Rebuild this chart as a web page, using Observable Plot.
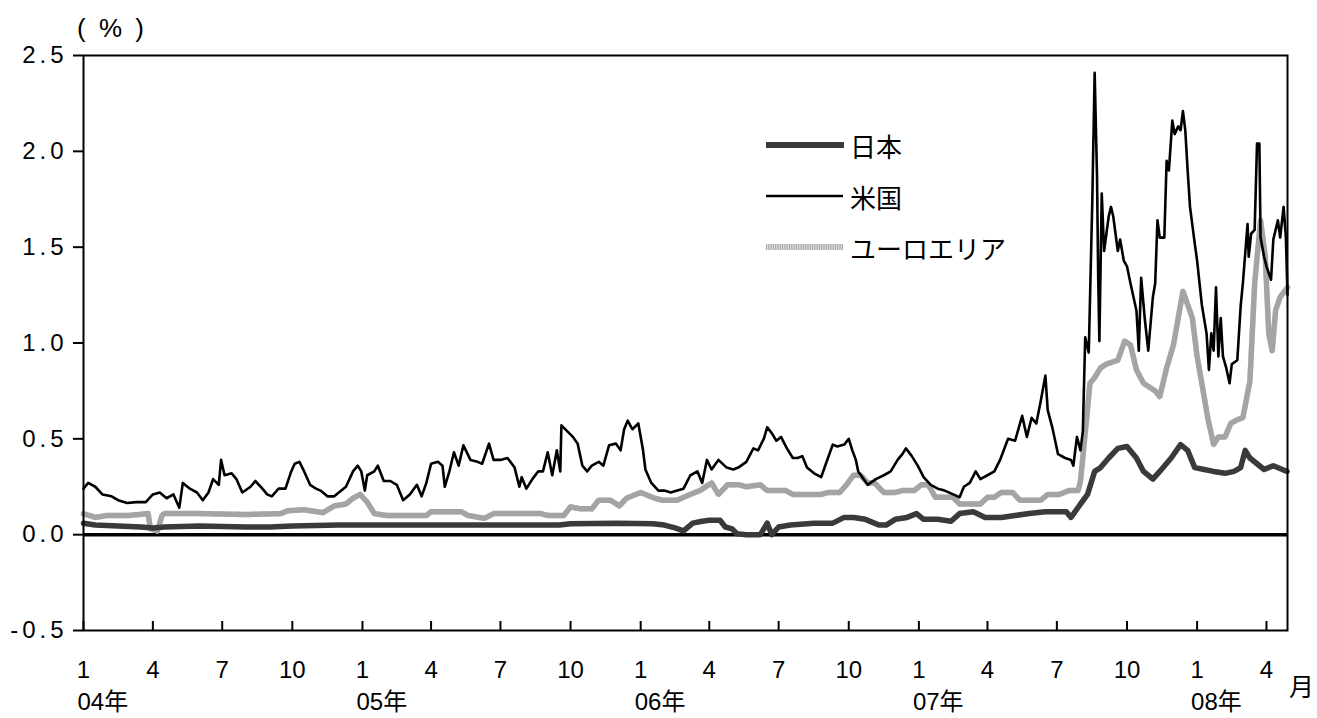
<!DOCTYPE html>
<html><head><meta charset="utf-8">
<script src="https://cdn.jsdelivr.net/npm/d3@7"></script>
<script src="https://cdn.jsdelivr.net/npm/@observablehq/plot@0.6"></script>
<style>
body{margin:0;background:#fff;}
#wrap{position:relative;width:1317px;height:718px;font-family:"Liberation Sans","Noto Sans CJK JP",sans-serif;color:#000;}
#unit{position:absolute;left:77px;top:13px;font-family:"Liberation Sans",sans-serif;font-size:26px;letter-spacing:3px;line-height:30px;white-space:pre;}
#month{position:absolute;left:1289px;top:668px;font-family:"Noto Sans CJK JP",sans-serif;font-size:25px;line-height:34px;}
.lg{position:absolute;left:766px;height:40px;display:flex;align-items:center;font-family:"Noto Sans CJK JP",sans-serif;font-size:26px;}
.lg svg{margin-right:6px;}
[aria-label="y-axis tick label"]{letter-spacing:4px;font-size:24px;}
</style></head>
<body><div id="wrap"></div>
<script>
// Time positions are months since Jan 2004; values in %.
const japanRate = [[0,0.06],[0.5,0.05],[1.5,0.045],[2.5,0.04],[3.0,0.035],[3.5,0.04],[5.0,0.045],[7.0,0.04],[8.0,0.04],[9.0,0.045],[11.0,0.05],[13.0,0.05],[15.0,0.05],[17.0,0.05],[19.0,0.05],[20.5,0.05],[21.0,0.057],[23.0,0.06],[24.5,0.057],[25.0,0.05],[25.5,0.035],[25.9,0.02],[26.3,0.06],[26.7,0.07],[27.0,0.075],[27.47,0.075],[27.7,0.04],[28.0,0.03],[28.2,0.005],[28.6,0.0],[29.2,0.0],[29.5,0.06],[29.7,0.0],[30.0,0.04],[30.5,0.05],[31.5,0.06],[32.3,0.06],[32.8,0.09],[33.2,0.09],[33.7,0.08],[34.3,0.05],[34.6,0.05],[35.0,0.08],[35.5,0.09],[35.9,0.11],[36.2,0.08],[36.8,0.08],[37.4,0.07],[37.8,0.11],[38.4,0.12],[38.9,0.09],[39.6,0.09],[40.2,0.10],[40.8,0.11],[41.5,0.12],[42.4,0.12],[42.6,0.09],[43.0,0.16],[43.3,0.21],[43.6,0.33],[43.85,0.35],[44.2,0.40],[44.6,0.45],[45.0,0.46],[45.4,0.40],[45.7,0.33],[46.1,0.29],[46.4,0.33],[46.9,0.40],[47.3,0.47],[47.6,0.44],[47.9,0.35],[48.3,0.34],[48.7,0.33],[49.2,0.32],[49.6,0.33],[49.9,0.35],[50.1,0.44],[50.3,0.40],[50.6,0.37],[50.9,0.34],[51.3,0.36],[51.9,0.33]];

const usRate = [[0,0.24],[0.2,0.27],[0.5,0.25],[0.8,0.21],[1.2,0.20],[1.5,0.18],[1.9,0.165],[2.3,0.17],[2.7,0.17],[3.0,0.21],[3.3,0.22],[3.6,0.19],[3.9,0.21],[4.15,0.14],[4.3,0.27],[4.6,0.24],[4.9,0.22],[5.15,0.18],[5.4,0.22],[5.6,0.29],[5.85,0.26],[5.95,0.39],[6.1,0.31],[6.4,0.32],[6.6,0.29],[6.85,0.22],[7.2,0.25],[7.4,0.28],[7.7,0.24],[7.9,0.21],[8.1,0.20],[8.4,0.24],[8.7,0.24],[8.95,0.33],[9.1,0.37],[9.3,0.38],[9.5,0.33],[9.75,0.26],[10.0,0.24],[10.2,0.23],[10.5,0.20],[10.8,0.20],[11.0,0.22],[11.3,0.25],[11.6,0.33],[11.8,0.36],[11.95,0.33],[12.1,0.23],[12.2,0.31],[12.5,0.33],[12.65,0.36],[12.9,0.28],[13.2,0.28],[13.5,0.26],[13.8,0.18],[14.1,0.21],[14.4,0.26],[14.6,0.20],[14.8,0.27],[15.0,0.37],[15.3,0.38],[15.5,0.36],[15.6,0.25],[15.8,0.33],[16.0,0.43],[16.2,0.36],[16.4,0.466],[16.7,0.39],[17.0,0.38],[17.2,0.37],[17.5,0.475],[17.7,0.39],[18.0,0.39],[18.3,0.40],[18.6,0.35],[18.8,0.25],[18.9,0.30],[19.1,0.24],[19.35,0.29],[19.6,0.33],[19.8,0.33],[20.0,0.43],[20.2,0.31],[20.4,0.44],[20.55,0.33],[20.6,0.57],[20.85,0.54],[21.1,0.51],[21.3,0.475],[21.5,0.36],[21.7,0.33],[21.9,0.36],[22.2,0.38],[22.4,0.36],[22.65,0.466],[22.95,0.475],[23.15,0.44],[23.3,0.55],[23.45,0.595],[23.65,0.55],[23.9,0.58],[24.1,0.44],[24.2,0.34],[24.45,0.27],[24.75,0.23],[25.0,0.23],[25.3,0.22],[25.6,0.23],[25.9,0.24],[26.2,0.31],[26.5,0.33],[26.7,0.27],[26.9,0.39],[27.1,0.34],[27.4,0.39],[27.76,0.35],[28.05,0.34],[28.26,0.35],[28.6,0.38],[28.9,0.45],[29.1,0.44],[29.35,0.50],[29.5,0.56],[29.7,0.53],[29.9,0.49],[30.1,0.51],[30.35,0.45],[30.6,0.40],[30.8,0.40],[31.0,0.41],[31.2,0.35],[31.5,0.32],[31.8,0.30],[32.0,0.37],[32.3,0.47],[32.5,0.46],[32.8,0.47],[33.0,0.50],[33.15,0.44],[33.3,0.39],[33.4,0.33],[33.8,0.26],[34.15,0.29],[34.5,0.31],[34.8,0.33],[35.1,0.39],[35.3,0.42],[35.45,0.45],[35.7,0.41],[35.95,0.36],[36.2,0.30],[36.5,0.26],[36.8,0.24],[37.1,0.23],[37.5,0.21],[37.8,0.195],[38.0,0.25],[38.25,0.27],[38.5,0.33],[38.7,0.29],[39.0,0.31],[39.3,0.33],[39.55,0.39],[39.9,0.50],[40.2,0.49],[40.5,0.62],[40.7,0.51],[40.9,0.61],[41.1,0.58],[41.3,0.70],[41.5,0.83],[41.6,0.65],[41.8,0.56],[42.05,0.42],[42.35,0.40],[42.6,0.39],[42.7,0.36],[42.85,0.51],[43.0,0.44],[43.1,0.54],[43.2,1.03],[43.35,0.95],[43.5,1.74],[43.6,2.41],[43.7,1.87],[43.75,1.34],[43.8,1.01],[43.9,1.78],[44.0,1.48],[44.1,1.57],[44.2,1.66],[44.3,1.71],[44.4,1.66],[44.6,1.48],[44.7,1.54],[44.86,1.43],[45.0,1.40],[45.15,1.31],[45.4,1.17],[45.5,0.96],[45.6,1.34],[45.75,1.13],[45.9,0.96],[46.1,1.24],[46.2,1.31],[46.3,1.64],[46.4,1.55],[46.6,1.55],[46.7,1.95],[46.8,1.90],[46.95,2.16],[47.05,2.09],[47.2,2.13],[47.3,2.11],[47.4,2.21],[47.5,2.11],[47.6,1.90],[47.7,1.71],[47.9,1.52],[48.0,1.43],[48.2,1.20],[48.4,1.05],[48.5,0.86],[48.6,1.05],[48.7,0.96],[48.8,1.29],[48.9,0.93],[49.0,1.13],[49.1,0.93],[49.25,0.87],[49.4,0.79],[49.5,0.89],[49.75,0.91],[49.9,1.19],[50.0,1.31],[50.2,1.62],[50.25,1.45],[50.35,1.57],[50.5,1.59],[50.6,2.04],[50.7,2.04],[50.75,1.55],[50.9,1.45],[51.0,1.40],[51.2,1.33],[51.3,1.54],[51.5,1.64],[51.6,1.55],[51.75,1.71],[51.85,1.55],[51.92,1.25]];

const euroRate = [[0,0.11],[0.5,0.09],[1.0,0.10],[2.0,0.10],[2.8,0.11],[2.9,0.03],[3.2,0.02],[3.4,0.10],[3.5,0.11],[5.0,0.11],[7.0,0.105],[8.5,0.11],[8.8,0.125],[9.5,0.13],[10.3,0.115],[10.8,0.15],[11.3,0.16],[11.6,0.19],[11.9,0.21],[12.2,0.17],[12.5,0.11],[13.0,0.10],[13.8,0.10],[14.8,0.10],[15.0,0.12],[16.3,0.12],[16.6,0.10],[17.3,0.085],[17.7,0.11],[19.7,0.11],[20.0,0.10],[20.7,0.10],[21.0,0.145],[21.4,0.135],[21.9,0.135],[22.2,0.18],[22.4,0.18],[22.7,0.18],[23.1,0.15],[23.4,0.19],[24.0,0.22],[24.6,0.19],[24.9,0.18],[25.6,0.18],[26.0,0.20],[26.6,0.23],[27.1,0.27],[27.4,0.21],[27.8,0.26],[28.3,0.26],[28.6,0.25],[29.2,0.26],[29.5,0.23],[30.3,0.23],[30.6,0.21],[31.8,0.21],[32.1,0.22],[32.6,0.22],[32.9,0.26],[33.2,0.31],[33.5,0.31],[33.8,0.27],[34.1,0.27],[34.5,0.22],[35.0,0.22],[35.3,0.23],[35.8,0.23],[36.1,0.26],[36.4,0.26],[36.7,0.195],[37.5,0.195],[37.8,0.16],[38.7,0.16],[39.0,0.195],[39.3,0.195],[39.6,0.22],[40.1,0.22],[40.4,0.18],[41.3,0.18],[41.6,0.21],[42.1,0.21],[42.5,0.23],[42.9,0.23],[43.0,0.28],[43.2,0.53],[43.4,0.79],[43.6,0.82],[43.85,0.87],[44.1,0.89],[44.6,0.91],[44.9,1.01],[45.15,0.99],[45.4,0.86],[45.7,0.79],[46.2,0.75],[46.4,0.72],[46.7,0.87],[47.0,0.99],[47.2,1.13],[47.4,1.27],[47.6,1.20],[47.8,1.13],[48.0,0.93],[48.2,0.79],[48.45,0.61],[48.7,0.47],[48.9,0.51],[49.2,0.51],[49.45,0.58],[49.75,0.60],[50.0,0.61],[50.3,0.80],[50.5,1.31],[50.75,1.64],[50.95,1.45],[51.1,1.05],[51.25,0.96],[51.4,1.17],[51.6,1.24],[51.92,1.29]];

const seriesNames = ["日本", "米国", "ユーロエリア"];
const yTicks = [-0.5, 0, 0.5, 1.0, 1.5, 2.0, 2.5];
const xEndMonth = 51.92;

const base = new Date(Date.UTC(2004, 0, 1));
function toDate(m) {
  const k = Math.floor(m);
  const a = d3.utcMonth.offset(base, k), b = d3.utcMonth.offset(base, k + 1);
  return new Date(+a + (m - k) * (b - a));
}
const rows = arr => arr.map(([m, v]) => ({date: toDate(m), v}));
const jp = rows(japanRate), us = rows(usRate), eu = rows(euroRate);
const xEnd = toDate(xEndMonth);
const monthTicks = d3.utcMonth.every(3).range(base, xEnd);
const yearTicks = d3.utcYear.range(base, xEnd);

const chart = Plot.plot({
  width: 1317, height: 718,
  marginLeft: 83, marginRight: 30, marginTop: 55, marginBottom: 88,
  style: {fontFamily: '"Liberation Sans","Noto Sans CJK JP",sans-serif', background: "#fff", color: "#000"},
  x: {type: "utc", domain: [base, xEnd]},
  y: {domain: [-0.5, 2.5]},
  marks: [
    Plot.axisY({ticks: yTicks, tickFormat: d => d.toFixed(1), tickSize: 10, tickPadding: 6, fontSize: 24, label: null, strokeWidth: 2}),
    Plot.axisX({ticks: monthTicks, tickFormat: () => "", tickSize: -9, strokeWidth: 2, label: null}),
    Plot.axisX({ticks: monthTicks, tickFormat: d => d.getUTCMonth() + 1, tickSize: 0, tickPadding: 30, fontSize: 24, label: null}),
    Plot.axisX({ticks: yearTicks, tickFormat: d => String(d.getUTCFullYear()).slice(2) + "年", tickSize: 0, tickPadding: 62, fontSize: 24, textAnchor: "start", dx: -6, label: null}),
    Plot.ruleY([0], {stroke: "#000", strokeWidth: 3.5}),
    Plot.line(eu, {x: "date", y: "v", stroke: "#dcdcdc", strokeWidth: 5.5}),
    Plot.line(eu, {x: "date", y: "v", stroke: "#a4a4a4", strokeWidth: 5.5, strokeDasharray: "1 1.3"}),
    Plot.line(jp, {x: "date", y: "v", stroke: "#3a3a3a", strokeWidth: 5.5, strokeLinejoin: "round"}),
    Plot.line(us, {x: "date", y: "v", stroke: "#000", strokeWidth: 2.6}),
    Plot.frame({stroke: "#000", strokeWidth: 2})
  ]
});
const wrap = document.getElementById("wrap");
wrap.appendChild(chart);

function addDiv(id, text) { const d = document.createElement("div"); d.id = id; d.textContent = text; wrap.appendChild(d); }
addDiv("unit", "( % )");
addDiv("month", "月");

const samples = [
  `<line x1="0" y1="10" x2="77" y2="10" stroke="#3a3a3a" stroke-width="6" stroke-linecap="round"/>`,
  `<line x1="0" y1="10" x2="77" y2="10" stroke="#000" stroke-width="2.6"/>`,
  `<line x1="0" y1="10" x2="77" y2="10" stroke="#dcdcdc" stroke-width="6"/><line x1="0" y1="10" x2="77" y2="10" stroke="#a4a4a4" stroke-width="6" stroke-dasharray="1 1.3"/>`
];
const centers = [145, 196, 247];
seriesNames.forEach((name, i) => {
  const r = document.createElement("div");
  r.className = "lg";
  r.style.top = (centers[i] - 20) + "px";
  r.innerHTML = `<svg width="78" height="20">${samples[i]}</svg><span>${name}</span>`;
  wrap.appendChild(r);
});
</script></body></html>
